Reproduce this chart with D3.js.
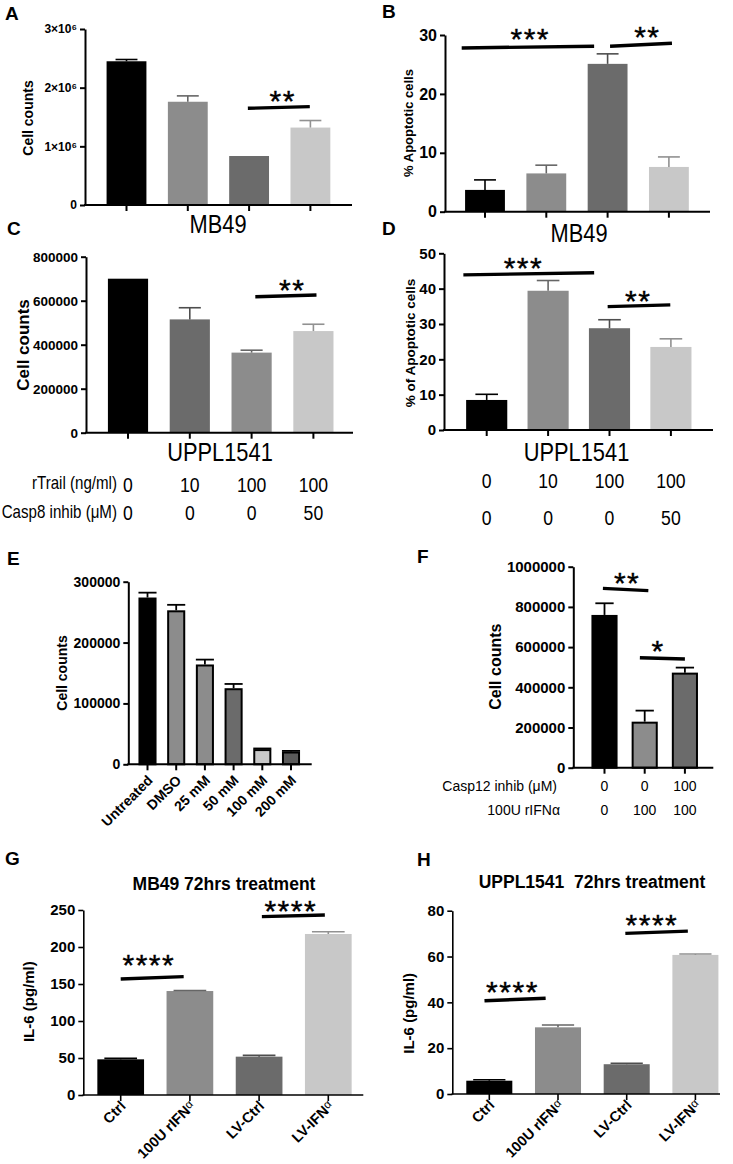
<!DOCTYPE html>
<html><head><meta charset="utf-8">
<script src="https://cdn.jsdelivr.net/npm/d3@7"></script>
<style>
body{margin:0;background:#fff;}
svg text{font-family:"Liberation Sans",Arial,sans-serif;fill:#000;}
</style></head><body>
<svg id="c" width="733" height="1164" xmlns="http://www.w3.org/2000/svg"></svg>
<script>
// ---------------- DATA ----------------
const rTrailDose = ["0", "10", "100", "100"];
const casp8Dose  = ["0", "0", "0", "50"];
const trailCats  = rTrailDose.map((r, i) => r + "/" + casp8Dose[i]);

const aValues = [2450000, 1760000, 835000, 1320000];
const aErrors = [30000, 100000, 0, 120000];
const aTicks  = [0, 1000000, 2000000, 3000000];
const aTickLabels = ["0", "1×10⁶", "2×10⁶", "3×10⁶"];
const aSig = [{from: 1.98, to: 2.99, v1: 1648000, v2: 1676000, stars: "**", sx: 2.54, sv: 1840000}];

const bValues = [3.7, 6.5, 25.1, 7.6];
const bErrors = [1.7, 1.4, 1.7, 1.7];
const bTicks  = [0, 10, 20, 30];
const bSig = [
  {from: -0.38, to: 1.78, v1: 27.8, v2: 28.1, stars: "***", sx: 0.73, sv: 30.0},
  {from: 2.04, to: 3.05, v1: 28.1, v2: 28.6, stars: "**", sx: 2.64, sv: 30.3}
];

const cValues = [700000, 515000, 364000, 462000];
const cErrors = [0, 53000, 11000, 31000];
const cTicks  = [0, 200000, 400000, 600000, 800000];
const cSig = [{from: 2.06, to: 3.05, v1: 618000, v2: 626000, stars: "**", sx: 2.65, sv: 664000}];

const dValues = [8.5, 39.4, 28.8, 23.5];
const dErrors = [1.6, 2.9, 2.4, 2.3];
const dTicks  = [0, 10, 20, 30, 40, 50];
const dSig = [
  {from: -0.38, to: 1.75, v1: 43.9, v2: 44.5, stars: "***", sx: 0.59, sv: 46.9},
  {from: 1.97, to: 2.99, v1: 34.9, v2: 35.4, stars: "**", sx: 2.46, sv: 37.4}
];

const eCats   = ["Untreated", "DMSO", "25 mM", "50 mM", "100 mM", "200 mM"];
const eValues = [274000, 253000, 164000, 125000, 25000, 21000];
const eErrors = [8000, 9000, 8000, 7000, 1000, 1000];
const eTicks  = [0, 100000, 200000, 300000];

const casp12Dose = ["0", "0", "100"];
const rIFNDose   = ["0", "100", "100"];
const fCats   = casp12Dose.map((c, i) => c + "/" + rIFNDose[i]);
const fValues = [760000, 229000, 473000];
const fErrors = [58000, 55000, 25000];
const fTicks  = [0, 200000, 400000, 600000, 800000, 1000000];
const fSig = [
  {from: -0.04, to: 1.09, v1: 892000, v2: 881000, stars: "**", sx: 0.55, sv: 934000},
  {from: 0.88, to: 2.0, v1: 547000, v2: 541000, stars: "*", sx: 1.32, sv: 597000}
];

const ilCats  = ["Ctrl", "100U rIFNα", "LV-Ctrl", "LV-IFNα"];
const gValues = [48.2, 140.5, 51.8, 217.6];
const gErrors = [1.3, 0.8, 1.8, 3.1];
const gTicks  = [0, 50, 100, 150, 200, 250];
const gSig = [
  {from: 0.0, to: 0.91, v1: 156.8, v2: 159.9, stars: "****", sx: 0.4, sv: 180},
  {from: 2.04, to: 2.95, v1: 241, v2: 243.2, stars: "****", sx: 2.45, sv: 253}
];

const hValues = [5.8, 29.1, 13.0, 60.7];
const hErrors = [0.4, 1.0, 0.4, 0.4];
const hTicks  = [0, 20, 40, 60, 80];
const hSig = [
  {from: -0.07, to: 0.82, v1: 40.7, v2: 41.8, stars: "****", sx: 0.33, sv: 46.1},
  {from: 1.98, to: 2.89, v1: 70.1, v2: 71.1, stars: "****", sx: 2.36, sv: 75.2}
];

// ---------------- STYLE / LAYOUT ----------------
const K = "#000", G1 = "#8c8c8c", G2 = "#6b6b6b", G3 = "#c8c8c8", G4 = "#5a5a5a";
const svg = d3.select("#c");
const NARROW = 0.84;
const STAR_FS = 30;

function drawPanel(p) {
  const g = svg.append("g");
  const x = d3.scaleBand().domain(p.cats).range(p.band).paddingInner(p.pi).paddingOuter(p.pi / 2);
  const y = d3.scaleLinear().domain([0, p.max]).range([p.y0, p.yTop]);
  const bw = x.bandwidth(), step = x.step();
  const cx = i => x(p.cats[0]) + bw / 2 + i * step;
  const sw = p.stroke || 0;

  g.append("g").selectAll("rect").data(p.values).join("rect")
    .attr("x", (v, i) => x(p.cats[i]) + sw / 2)
    .attr("width", bw - sw)
    .attr("y", v => y(v) + sw / 2)
    .attr("height", v => Math.max(0, p.y0 - y(v) - sw / 2))
    .attr("fill", (v, i) => p.colors[i])
    .attr("stroke", sw ? "#000" : "none")
    .attr("stroke-width", sw);

  const errData = p.values.map((v, i) => ({v, e: p.errors[i], i})).filter(d => d.e > 0);
  const errCol = d => sw ? "#000" : d3.color(p.colors[d.i]).darker(0.9).formatHex();
  const eg = g.append("g");
  eg.selectAll("line.v").data(errData).join("line").attr("class", "v")
    .attr("x1", d => cx(d.i)).attr("x2", d => cx(d.i))
    .attr("y1", d => y(d.v)).attr("y2", d => y(d.v + d.e))
    .attr("stroke", errCol).attr("stroke-width", p.ew);
  eg.selectAll("line.c").data(errData).join("line").attr("class", "c")
    .attr("x1", d => cx(d.i) - bw * p.cap / 2).attr("x2", d => cx(d.i) + bw * p.cap / 2)
    .attr("y1", d => y(d.v + d.e)).attr("y2", d => y(d.v + d.e))
    .attr("stroke", errCol).attr("stroke-width", p.ew);

  const ya = d3.axisLeft(y).tickValues(p.ticks)
    .tickFormat((t, i) => p.tickLabels ? p.tickLabels[i] : String(t))
    .tickSize(5).tickPadding(3).tickSizeOuter(0);
  const yg = g.append("g").attr("transform", `translate(${p.axisX[0]},0)`).call(ya);
  yg.attr("font-family", null).attr("font-size", null);
  yg.selectAll("path,line").attr("stroke", "#000").attr("stroke-width", p.aw);
  yg.selectAll("text").attr("font-size", p.tfs).attr("font-weight", "bold").attr("fill", "#000");

  g.append("line").attr("x1", p.axisX[0] - p.aw / 2).attr("x2", p.axisX[1])
    .attr("y1", p.y0).attr("y2", p.y0).attr("stroke", "#000").attr("stroke-width", p.aw);
  const xa = d3.axisBottom(x).tickSize(6).tickSizeOuter(0)
    .tickFormat((c, i) => p.xLabels ? p.xLabels[i] : "");
  const xg = g.append("g").attr("transform", `translate(0,${p.y0})`).call(xa);
  xg.attr("font-family", null).attr("font-size", null);
  xg.select(".domain").remove();
  xg.selectAll("line").attr("stroke", "#000").attr("stroke-width", p.aw);
  if (p.xLabels) {
    xg.selectAll(".tick text")
      .attr("x", 0).attr("y", 0).attr("dy", 0)
      .attr("transform", `translate(${p.lx},${p.ly}) rotate(-45)`)
      .attr("text-anchor", "end").attr("font-size", p.xfs).attr("font-weight", "bold").attr("fill", "#000")
      .each(function () {
        const s = this.textContent;
        if (s.includes("α")) {
          const t = d3.select(this).text(s.replace("α", ""));
          t.append("tspan").attr("font-size", p.xfs * 0.8).attr("font-weight", "normal").attr("dy", -3).text("α");
        }
      });
  } else {
    xg.selectAll(".tick text").remove();
  }

  g.append("text")
    .attr("transform", `translate(${p.yt[0]},${p.yt[1]}) rotate(-90)`)
    .attr("text-anchor", "middle").attr("dominant-baseline", "central")
    .attr("font-weight", "bold").attr("font-size", p.ytfs).text(p.ytitle);

  (p.sig || []).forEach(s => {
    g.append("line").attr("x1", cx(s.from)).attr("x2", cx(s.to))
      .attr("y1", y(s.v1)).attr("y2", y(s.v2))
      .attr("stroke", "#000").attr("stroke-width", 3.4);
    g.append("text").attr("x", cx(s.sx)).attr("y", y(s.sv) + 0.45 * STAR_FS)
      .attr("dx", 0.5).attr("text-anchor", "middle").attr("font-size", STAR_FS)
      .attr("stroke", "#000").attr("stroke-width", 0.4)
      .attr("letter-spacing", 1.5).text(s.stars);
  });

  return {x, y, cx};
}

const A = drawPanel({cats: trailCats, values: aValues, errors: aErrors, colors: [K, G1, G2, G3],
  max: 3000000, ticks: aTicks, tickLabels: aTickLabels, sig: aSig,
  band: [95.85, 341.05], pi: 0.35, axisX: [85, 352], y0: 205, yTop: 29,
  aw: 2, ew: 1.6, cap: 0.55, tfs: 12, ytfs: 14, yt: [27.5, 118], ytitle: "Cell counts"});

const B = drawPanel({cats: trailCats, values: bValues, errors: bErrors, colors: [K, G1, G2, G3],
  max: 30, ticks: bTicks, sig: bSig,
  band: [454.35, 699.55], pi: 0.35, axisX: [445, 710], y0: 211.7, yTop: 35,
  aw: 2, ew: 1.6, cap: 0.55, tfs: 16, ytfs: 13, yt: [408, 123], ytitle: "% Apoptotic cells"});

const C = drawPanel({cats: trailCats, values: cValues, errors: cErrors, colors: [K, G2, G1, G3],
  max: 800000, ticks: cTicks, sig: cSig,
  band: [97.1, 344.3], pi: 0.35, axisX: [86, 353], y0: 432.7, yTop: 256.7,
  aw: 2, ew: 1.6, cap: 0.55, tfs: 13.5, ytfs: 17, yt: [23, 345], ytitle: "Cell counts"});

const D = drawPanel({cats: trailCats, values: dValues, errors: dErrors, colors: [K, G1, G2, G3],
  max: 50, ticks: dTicks, sig: dSig,
  band: [456, 701.6], pi: 0.33, axisX: [444, 713], y0: 430, yTop: 253.3,
  aw: 2, ew: 1.6, cap: 0.55, tfs: 15, ytfs: 13.5, yt: [410, 343], ytitle: "% of Apoptotic cells"});

const E = drawPanel({cats: eCats, values: eValues, errors: eErrors, colors: [K, G1, G1, G2, G3, G4],
  max: 300000, ticks: eTicks, xLabels: eCats, lx: 6, ly: 17, xfs: 14,
  band: [133.15, 305.35], pi: 0.37, axisX: [128.3, 311.7], y0: 764.3, yTop: 581.7,
  aw: 2, ew: 1.8, cap: 1.0, stroke: 2, tfs: 14, ytfs: 14, yt: [61.5, 673], ytitle: "Cell counts"});

const F = drawPanel({cats: fCats, values: fValues, errors: fErrors, colors: [K, G1, G2],
  max: 1000000, ticks: fTicks, sig: fSig,
  band: [584.4, 705], pi: 0.35, axisX: [573.3, 713.3], y0: 767.7, yTop: 566.7,
  aw: 2, ew: 1.8, cap: 0.7, stroke: 2, tfs: 15, ytfs: 16, yt: [495, 666.7], ytitle: "Cell counts"});

const Gp = drawPanel({cats: ilCats, values: gValues, errors: gErrors, colors: [K, G1, G2, G3],
  max: 250, ticks: gTicks, sig: gSig, xLabels: ilCats, lx: 6, ly: 12, xfs: 14.5,
  band: [86.1, 362.9], pi: 0.325, axisX: [83.3, 363.3], y0: 1095, yTop: 910,
  aw: 1.6, ew: 1.6, cap: 0.7, tfs: 15, ytfs: 15, yt: [28.3, 1001.7], ytitle: "IL-6 (pg/ml)"});

const H = drawPanel({cats: ilCats, values: hValues, errors: hErrors, colors: [K, G1, G2, G3],
  max: 80, ticks: hTicks, sig: hSig, xLabels: ilCats, lx: 6, ly: 12, xfs: 14.5,
  band: [454.95, 729.75], pi: 0.33, axisX: [452.3, 720], y0: 1094, yTop: 910.7,
  aw: 1.6, ew: 1.6, cap: 0.7, tfs: 15, ytfs: 15, yt: [408, 1013.3], ytitle: "IL-6 (pg/ml)"});

// ---------------- TEXT ----------------
const letters = [["A", 5, 20], ["B", 382, 18], ["C", 7, 235], ["D", 382, 235],
                 ["E", 7, 565], ["F", 417, 563], ["G", 5, 865], ["H", 417, 866]];
svg.selectAll("text.letter").data(letters).join("text").attr("class", "letter")
  .attr("x", d => d[1]).attr("y", d => d[2])
  .attr("font-size", 19).attr("font-weight", "bold").text(d => d[0]);

function narrow(txt, x, y, size, anchor) {
  svg.append("text").attr("transform", `translate(${x},${y}) scale(${NARROW},1)`)
    .attr("text-anchor", anchor).attr("font-size", size).text(txt);
}

const cellLines = [["MB49", 218, 233], ["MB49", 579, 241.5], ["UPPL1541", 220, 461], ["UPPL1541", 576.5, 461]];
cellLines.forEach(d => narrow(d[0], d[1], d[2], 26, "middle"));

rTrailDose.forEach((v, i) => narrow(v, C.cx(i), 491.5, 21, "middle"));
casp8Dose.forEach((v, i) => narrow(v, C.cx(i), 520, 21, "middle"));
rTrailDose.forEach((v, i) => narrow(v, D.cx(i), 488, 21, "middle"));
casp8Dose.forEach((v, i) => narrow(v, D.cx(i), 525, 21, "middle"));
narrow("rTrail (ng/ml)", 117, 489, 18, "end");
narrow("Casp8 inhib (μM)", 117, 518, 18, "end");

function frows(vals, yb) {
  svg.append("g").selectAll("text").data(vals).join("text")
    .attr("x", (v, i) => F.cx(i)).attr("y", yb).attr("text-anchor", "middle")
    .attr("font-size", 14).text(v => v);
}
frows(casp12Dose, 791); frows(rIFNDose, 815);
svg.append("text").attr("x", 557).attr("y", 791).attr("text-anchor", "end").attr("font-size", 14).text("Casp12 inhib (μM)");
svg.append("text").attr("x", 560).attr("y", 815).attr("text-anchor", "end").attr("font-size", 14).text("100U rIFNα");

svg.append("text").attr("x", 224).attr("y", 889.5).attr("text-anchor", "middle")
  .attr("font-size", 17.5).attr("font-weight", "bold").text("MB49 72hrs treatment");
svg.append("text").attr("x", 592).attr("y", 888).attr("text-anchor", "middle")
  .attr("font-size", 17.5).attr("font-weight", "bold")
  .style("white-space", "pre").text("UPPL1541  72hrs treatment");
</script>
</body></html>
